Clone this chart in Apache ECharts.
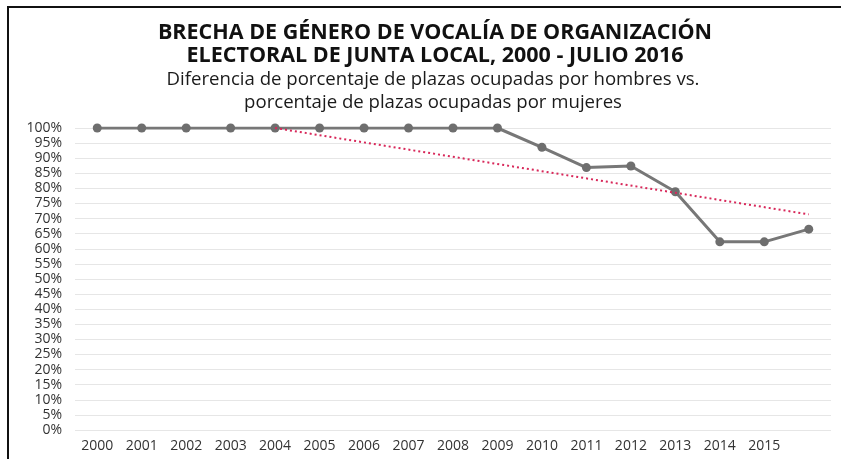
<!DOCTYPE html>
<html>
<head>
<meta charset="utf-8">
<script src="https://cdn.jsdelivr.net/npm/echarts@6/dist/echarts.min.js"></script>
<style>
  html, body { margin: 0; padding: 0; background: #fff; }
  #chart { width: 841px; height: 459px; }
</style>
</head>
<body>
<div id="chart"></div>
<script>
// datos
const years = ['2000', '2001', '2002', '2003', '2004', '2005', '2006', '2007', '2008',
  '2009', '2010', '2011', '2012', '2013', '2014', '2015', '2016']
const brecha = [100, 100, 100, 100, 100, 100, 100, 100, 100, 100, 93.6, 86.9, 87.4, 78.9, 62.3, 62.3, 66.5]
// línea de tendencia (solo extremos visibles dentro de 0-100%)
const tendencia = [null, null, null, null, 100, null, null, null, null, null, null, null, null, null, null, null, 71.4]

const chart = echarts.init(document.getElementById('chart'))

const option = {
  animation: false,
  title: [
    {
      text: 'BRECHA DE GÉNERO DE VOCALÍA DE ORGANIZACIÓN\nELECTORAL DE JUNTA LOCAL, 2000 - JULIO 2016',
      left: 430, top: 16, textAlign: 'center',
      textStyle: { fontFamily: 'Open Sans', fontWeight: 'bold', fontSize: 21.5, color: '#111', lineHeight: 23 }
    },
    {
      text: 'Diferencia de porcentaje de plazas ocupadas por hombres vs.\nporcentaje de plazas ocupadas por mujeres',
      left: 428, top: 63, textAlign: 'center',
      textStyle: { fontFamily: 'Open Sans', fontWeight: 'normal', fontSize: 18.6, color: '#1a1a1a', lineHeight: 23 }
    }
  ],
  graphic: [
    {
      type: 'polyline',
      shape: { points: [[8, 459], [8, 7], [841, 7]] },
      style: { stroke: '#111', lineWidth: 2, fill: null }
    }
  ],
  grid: { left: 75, right: 10, top: 128, bottom: 29 },
  xAxis: {
    type: 'category',
    data: years,
    axisLine: { show: false },
    axisTick: { show: false },
    axisLabel: {
      margin: 9,
      color: '#333',
      fontFamily: 'Open Sans',
      fontSize: 14,
      interval: 0,
      formatter: function (v) { return v === '2016' ? '' : v }
    }
  },
  yAxis: {
    type: 'value',
    min: 0, max: 100, interval: 5,
    axisLine: { show: false },
    axisTick: { show: false },
    splitLine: { lineStyle: { color: '#e6e6e6', width: 1 } },
    axisLabel: {
      margin: 13,
      color: '#333',
      fontFamily: 'Open Sans',
      fontSize: 14,
      formatter: '{value}%'
    }
  },
  series: [
    {
      name: 'Brecha',
      type: 'line',
      data: brecha,
      symbol: 'circle',
      symbolSize: 9,
      itemStyle: { color: '#6e6e6e' },
      lineStyle: { color: '#777', width: 3 },
      z: 3
    },
    {
      name: 'Tendencia',
      type: 'line',
      data: tendencia,
      connectNulls: true,
      symbol: 'none',
      lineStyle: { color: '#d8285a', width: 2, type: [2, 3] },
      z: 4
    }
  ]
}

chart.setOption(option)
</script>
</body>
</html>
